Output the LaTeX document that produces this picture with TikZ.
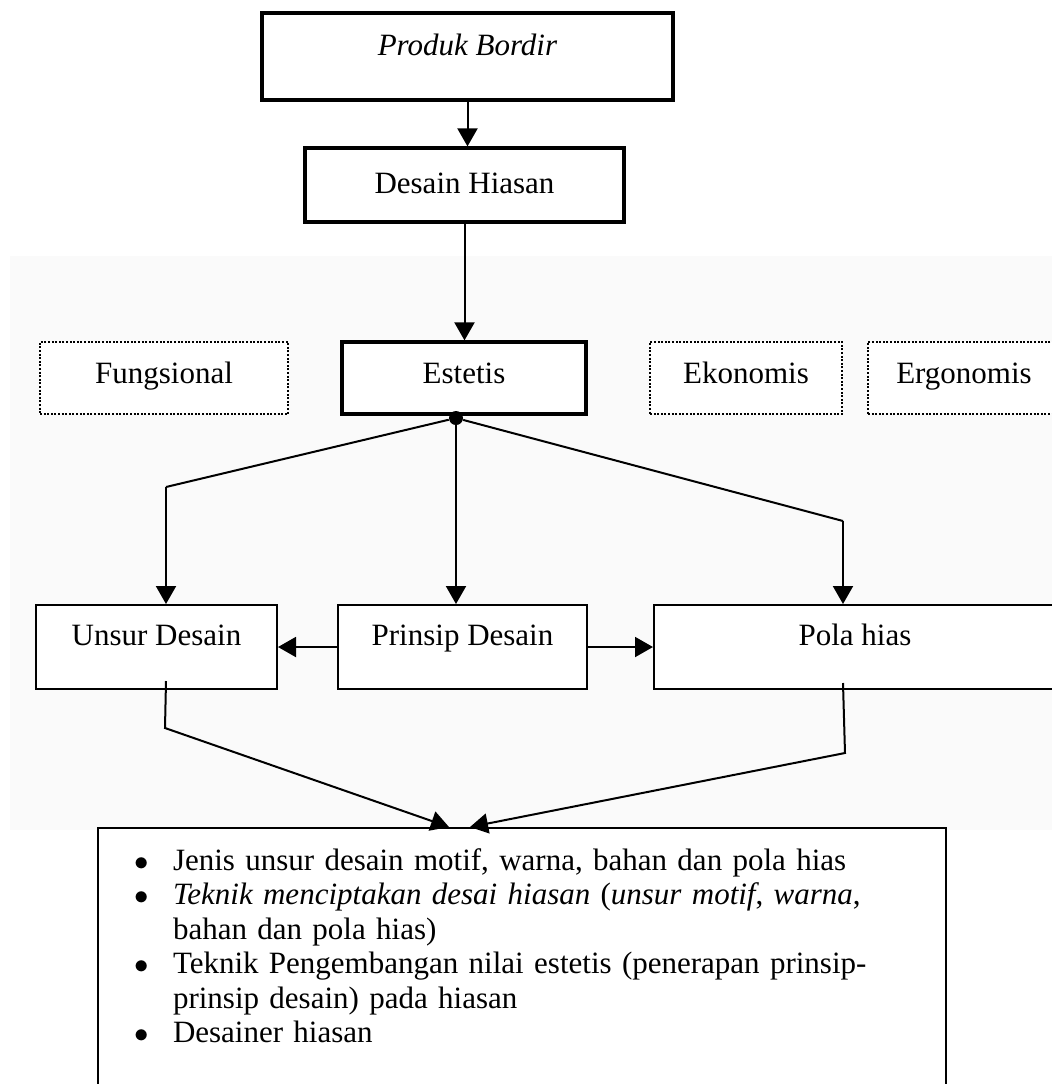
\documentclass[tikz,border=0pt]{standalone}
\usepackage{fontspec}
\setmainfont{Liberation Serif}
\usetikzlibrary{arrows.meta,positioning}
\tikzset{
    kotak/.style={draw, fill=white, line width=1pt, inner sep=0pt, text height=10pt, text depth=12pt},
    kotaktebal/.style={kotak, line width=1.6pt},
    kotaktitik/.style={kotak, dash pattern=on 1pt off 0.8pt},
    panah/.style={-{Triangle[length=9pt,width=10pt]}, line width=1pt},
    garis/.style={line width=1pt}
}
\newcommand{\butir}[1]{\par\hangindent=18.5pt\hangafter=1\noindent\makebox[18.5pt][l]{\hspace{-1pt}$\bullet$}#1}

\begin{document}
\begin{tikzpicture}[x=0.5pt,y=-0.5pt,font=\fontsize{15.5pt}{17.2pt}\selectfont]
    \useasboundingbox (0,0) rectangle (1052,1084);
    \clip (0,0) rectangle (1052,1084);
    \fill[gray!4] (10,256) rectangle (1052,830);

    \node[kotaktebal, minimum width=205.5pt, minimum height=43.5pt, text depth=11.5pt] (pb) at (467.5,56.5) {\textit{Produk Bordir}};
    \node[kotaktebal, minimum width=159.5pt, minimum height=37pt, text depth=2pt] (dh) at (464.5,185) {Desain Hiasan};

    \node[kotaktitik, minimum width=124pt, minimum height=36pt, text depth=5pt] (fu) at (164,378) {Fungsional};
    \node[kotaktebal, minimum width=122pt, minimum height=36pt, text depth=5pt] (es) at (464,378) {Estetis};
    \node[kotaktitik, minimum width=96pt, minimum height=36pt, text depth=5pt] (ek) at (746,378) {Ekonomis};
    \node[kotaktitik, minimum width=96pt, minimum height=36pt, text depth=5pt] (er) at (964,378) {Ergonomis};

    \node[kotak, minimum width=120.5pt, minimum height=42pt] (ud) at (156.5,647) {Unsur Desain};
    \node[kotak, minimum width=124.5pt, minimum height=42pt] (pd) at (462.5,647) {Prinsip Desain};
    \node[kotak, minimum width=201pt, minimum height=42pt] (ph) at (855,647) {Pola hias};

    \node[draw, fill=white, line width=1pt, anchor=north west, text width=386pt, inner xsep=19pt, inner ysep=4pt] (isi) at (97,827) {%
        \raggedright
        \butir{Jenis unsur desain motif, warna, bahan dan pola hias}
        \butir{\textit{Teknik menciptakan desai hiasan} (\textit{unsur motif}, \textit{warna},\newline bahan dan pola hias)}
        \butir{Teknik Pengembangan nilai estetis (penerapan prinsip-\newline prinsip desain) pada hiasan}
        \butir{Desainer hiasan}
        \par\rule{0pt}{30pt}};

    \node[circle, fill, inner sep=0pt, minimum size=7pt] (hub) at (456,418) {};
    \coordinate (b1) at (166,487);
    \coordinate (b2) at (843,521);
    \coordinate (b3) at (165,728);
    \coordinate (b4) at (845,753);

    \draw[panah] (pb.south) -- (pb.south |- dh.north);
    \draw[panah] (dh.south) -- (dh.south |- es.north);
    \draw[garis] (hub) -- (b1);
    \draw[panah] (b1) -- (b1 |- ud.north);
    \draw[panah] (hub) -- (hub |- pd.north);
    \draw[garis] (hub) -- (b2);
    \draw[panah] (b2) -- (b2 |- ph.north);
    \draw[panah] (pd.west) -- (ud.east);
    \draw[panah] (pd.east) -- (ph.west);
    \draw[panah] ([xshift=4.75pt,yshift=4.5pt]ud.south) -- (b3) -- ([xshift=-36.5pt]isi.north);
    \draw[panah] ([xshift=-6pt,yshift=3.5pt]ph.south) -- (b4) -- ([xshift=-26pt]isi.north);
\end{tikzpicture}
\end{document}
